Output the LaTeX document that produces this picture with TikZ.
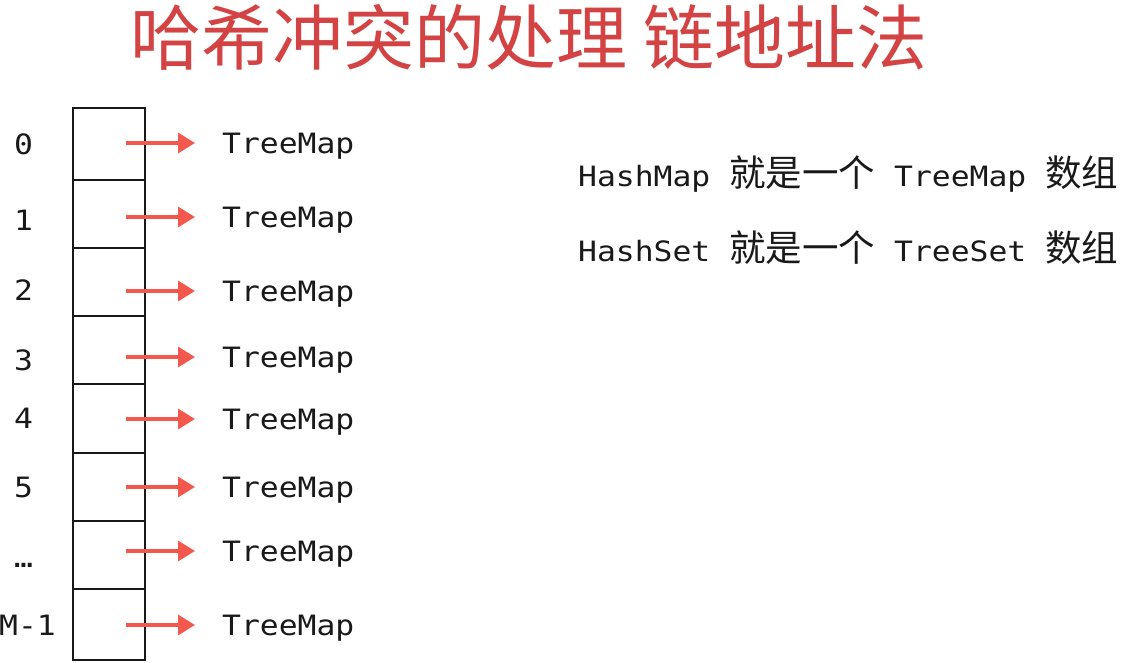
\documentclass[tikz,border=0pt]{standalone}
\usepackage{fontspec}
\usepackage{tikz}
\usetikzlibrary{arrows.meta}
\newfontfamily\cjk{Noto Sans CJK SC}
\newfontfamily\mono[FakeStretch=1.12]{DejaVu Sans Mono}
\definecolor{titlered}{RGB}{211,67,67}
\definecolor{arrowred}{RGB}{244,88,76}
\definecolor{ink}{RGB}{25,25,25}
\begin{document}
\begin{tikzpicture}[x=1pt, y=-1pt,
        cell/.style={rectangle, draw=ink, line width=2pt, minimum width=71.5pt, inner sep=0pt},
        index/.style={anchor=base, inner sep=0pt, text=ink, font=\mono\fontsize{28}{28}\selectfont},
        entry/.style={anchor=west, inner sep=0pt, text height=20.4pt, text depth=0pt, text=ink, font=\mono\fontsize{28}{28}\selectfont},
        ptr/.style={draw=arrowred, line width=3.2pt, -{Triangle[length=17pt, width=20pt, fill=arrowred]}},
        note/.style={anchor=base west, inner sep=0pt, text=ink, font=\mono\fontsize{28}{28}\selectfont}]
            \useasboundingbox[fill=white] (0,0) rectangle (1145,663);
            \node [text=titlered, font=\cjk\fontsize{71}{71}\selectfont] (title) at (529,37) {哈希冲突的处理 链地址法};
            \foreach \top/\bot/\ay [count=\i from 0] in {108/180/143, 180/248/217, 248/316/291, 316/384/357, 384/453/419, 453/521/487, 521/589/551, 589/660/625} {
                \node [cell, minimum height={(\bot-\top)*1pt}] (c\i) at (109, {(\top+\bot)/2}) {};
                \node [entry] (t\i) at (222, \ay) {TreeMap};
                \draw [ptr] ([xshift=-20pt]c\i.east |- t\i.west) -- ([xshift=-27pt]t\i.west);
            }
            \foreach \lab/\x/\y [count=\i from 0] in {0/23.5/155, 1/23.5/230, 2/23.5/300, 3/23.5/370, 4/23.5/428, 5/23.5/497, …/23.5/567, M-1/27.5/635}
                \node [index] (n\i) at (\x, \y) {\lab};
            \node [note] (mapnote) at (578, 186) {HashMap {\cjk\fontsize{36.5}{36.5}\selectfont 就是一个} TreeMap {\cjk\fontsize{36.5}{36.5}\selectfont 数组}};
            \node [note] (setnote) at (578, 261) {HashSet {\cjk\fontsize{36.5}{36.5}\selectfont 就是一个} TreeSet {\cjk\fontsize{36.5}{36.5}\selectfont 数组}};
        \end{tikzpicture}
\end{document}
